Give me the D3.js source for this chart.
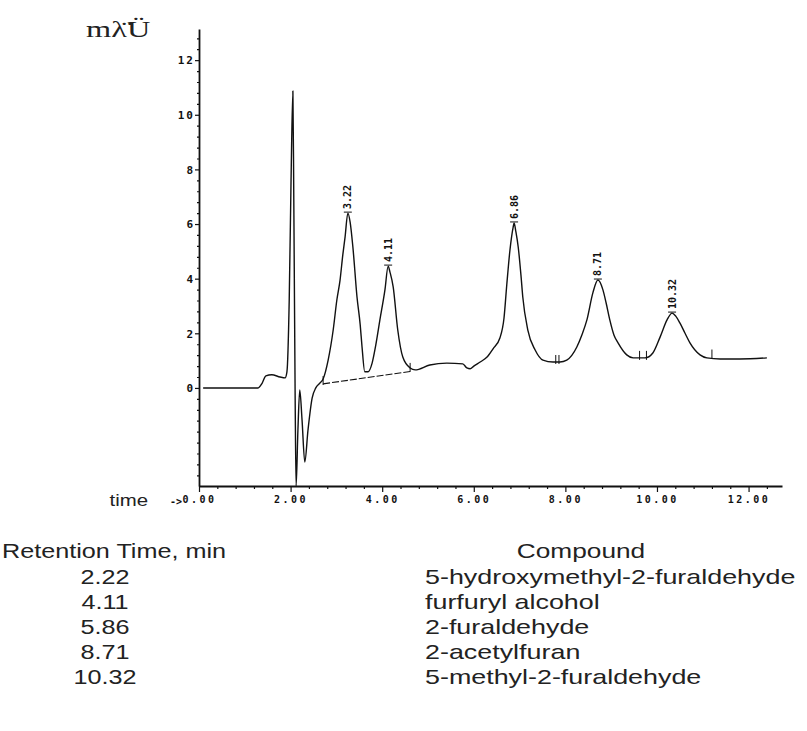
<!DOCTYPE html>
<html><head><meta charset="utf-8">
<script src="https://cdn.jsdelivr.net/npm/d3@7"></script>
<style>
body{margin:0;background:#fff;}
svg{display:block;}
.mono{font-family:"DejaVu Sans Mono",monospace;font-weight:bold;}
</style></head>
<body>
<svg id="c" width="807" height="731"></svg>
<script>
// ---- data ----
const traceTime = [0.09,1.29,1.38,1.46,1.59,1.77,1.88,1.92,1.97,2.01,2.05,2.07,2.10,2.12,2.16,2.20,2.25,2.31,2.38,2.47,2.55,2.64,
  2.71,2.82,2.93,3.01,3.08,3.14,3.19,3.25,3.30,3.36,3.45,3.52,3.56,3.62,3.69,3.78,3.86,3.95,4.06,4.13,4.17,4.24,4.34,4.45,4.61,
  4.72,5.04,5.41,5.76,5.85,5.92,6.00,6.14,6.29,6.42,6.57,6.66,6.72,6.79,6.86,6.88,6.92,6.97,7.03,7.07,7.18,7.34,7.51,7.73,7.88,
  8.03,8.25,8.36,8.47,8.60,8.71,8.82,8.89,8.97,9.06,9.15,9.34,9.48,9.74,9.91,10.07,10.22,10.33,10.41,10.50,10.61,10.72,10.94,
  11.09,11.38,11.81,12.40];
const traceAbs = [0,0,0.18,0.44,0.48,0.40,0.37,0.59,3.22,7.61,10.87,6.88,-0.44,-3.59,-1.54,-0.07,-1.17,-2.71,-1.54,-0.37,0,0.18,
  0.33,1.02,2.12,3.22,3.95,4.87,5.53,6.40,6.07,5.16,3.33,2.31,1.50,0.59,0.59,0.91,1.57,2.49,3.59,4.46,4.24,3.70,2.12,1.13,0.73,
  0.66,0.84,0.91,0.88,0.73,0.70,0.80,0.95,1.13,1.43,1.83,2.56,3.77,5.05,5.89,6.04,5.71,5.16,4.13,3.33,2.12,1.39,1.02,0.95,0.95,
  1.02,1.50,1.94,2.49,3.48,3.95,3.59,3.11,2.49,1.94,1.65,1.21,1.10,1.10,1.28,1.87,2.49,2.74,2.63,2.38,2.01,1.65,1.21,
  1.10,1.06,1.06,1.10];
const baselineTime = [2.71, 4.61];
const baselineAbs = [0.15, 0.60];
const eventTimes = [2.71, 4.61, 7.79, 7.86, 9.62, 9.77, 11.20];
const eventAbs = [0.18, 0.66, 0.95, 0.95, 1.10, 1.10, 1.15];
const peakTimes = [3.25, 4.13, 6.88, 8.71, 10.33];
const peakAbs = [6.40, 4.46, 6.04, 3.95, 2.74];
const peakLabels = ["3.22", "4.11", "6.86", "8.71", "10.32"];
const xMajor = [0, 2, 4, 6, 8, 10, 12];
const xLabels = ["0.00", "2.00", "4.00", "6.00", "8.00", "10.00", "12.00"];
const yMajor = [0, 2, 4, 6, 8, 10, 12];
const yLabels = ["0", "2", "4", "6", "8", "10", "12"];
const tableTimes = ["2.22", "4.11", "5.86", "8.71", "10.32"];
const tableCompounds = ["5-hydroxymethyl-2-furaldehyde", "furfuryl alcohol", "2-furaldehyde", "2-acetylfuran", "5-methyl-2-furaldehyde"];

// ---- drawing ----
const svg = d3.select("#c");
const x = d3.scaleLinear().domain([0, 12.73]).range([199, 782]);
const y = d3.scaleLinear().domain([-3.59, 13.14]).range([486, 29]);
const ink = "#111";

function stretchedText(parent, px, py, str, anchor, sx) {
  return parent.append("g").attr("transform", `translate(${px},${py}) scale(${sx},1)`)
    .append("text").attr("text-anchor", anchor || "start").text(str);
}

// minor ticks
const xMinor = d3.range(0, 12.8, 0.4).filter(v => !xMajor.some(m => Math.abs(m - v) < 0.01));
const yMinor = d3.range(-3.2, 13.1, 0.4).filter(v => !yMajor.some(m => Math.abs(m - v) < 0.01));

const xAxis = svg.append("g").attr("transform", `translate(0,${y.range()[0]})`)
  .call(d3.axisBottom(x).tickValues(xMajor).tickSize(6).tickSizeOuter(0)
    .tickFormat((d, i) => xLabels[i]));
svg.append("g").attr("transform", `translate(0,${y.range()[0]})`)
  .call(d3.axisBottom(x).tickValues(xMinor).tickSize(3).tickSizeOuter(0).tickFormat(""))
  .select(".domain").remove();
const yAxis = svg.append("g").attr("transform", `translate(${x.range()[0]},0)`)
  .call(d3.axisLeft(y).tickValues(yMajor).tickSize(4).tickSizeOuter(0)
    .tickFormat((d, i) => yLabels[i]));
svg.append("g").attr("transform", `translate(${x.range()[0]},0)`)
  .call(d3.axisLeft(y).tickValues(yMinor).tickSize(2).tickSizeOuter(0).tickFormat(""))
  .select(".domain").remove();

svg.selectAll(".domain").attr("stroke", ink).attr("stroke-width", 1.8);
svg.selectAll(".tick line").attr("stroke", ink).attr("stroke-width", 1.2);
xAxis.selectAll("text").attr("class", "mono").attr("font-size", 10).attr("letter-spacing", 2.5)
  .attr("fill", ink).attr("y", 10);
yAxis.selectAll("text").attr("class", "mono").attr("font-size", 11).attr("letter-spacing", 2)
  .attr("fill", ink).attr("x", -4).attr("dy", "0.35em");

// "->" arrow and "time" label
svg.append("text").attr("class", "mono").attr("x", x(0) - 17).attr("y", y.range()[0] + 19)
  .attr("text-anchor", "end").attr("font-size", 10).attr("fill", ink).text("->");
const timeLbl = svg.append("g").attr("font-family", "Liberation Sans, Arial, sans-serif")
  .attr("font-size", 17).attr("fill", "#222");
stretchedText(timeLbl, 148, y.range()[0] + 20, "time", "end", 1.2);

// y unit label
const unitLbl = svg.append("g").attr("font-family", "Liberation Serif, Times New Roman, serif")
  .attr("font-size", 24).attr("fill", "#222");
stretchedText(unitLbl, 86, 37, "mλ\u0308\u00DC", "start", 1.35);

// baseline (integration)
svg.append("line")
  .attr("x1", x(baselineTime[0])).attr("y1", y(baselineAbs[0]))
  .attr("x2", x(baselineTime[1])).attr("y2", y(baselineAbs[1]))
  .attr("stroke", ink).attr("stroke-width", 1.1).attr("stroke-dasharray", "7,2");

// event markers
svg.selectAll(".ev").data(eventTimes).join("line")
  .attr("x1", d => x(d)).attr("x2", d => x(d))
  .attr("y1", (d, i) => y(eventAbs[i]) + 2).attr("y2", (d, i) => y(eventAbs[i]) - 7)
  .attr("stroke", ink).attr("stroke-width", 1);

// trace
const pts = traceTime.map((t, i) => [t, traceAbs[i]]);
svg.append("path").datum(pts)
  .attr("d", d3.line().x(d => x(d[0])).y(d => y(d[1])).curve(d3.curveMonotoneX))
  .attr("fill", "none").attr("stroke", ink).attr("stroke-width", 1.4).attr("stroke-linejoin", "round");

// peak top markers + labels
svg.selectAll(".pm").data(peakTimes).join("line")
  .attr("x1", d => x(d) - 4).attr("x2", d => x(d) + 4)
  .attr("y1", (d, i) => y(peakAbs[i]) - 1).attr("y2", (d, i) => y(peakAbs[i]) - 1)
  .attr("stroke", ink).attr("stroke-width", 1);
svg.selectAll(".pl").data(peakTimes).join("text")
  .attr("class", "mono").attr("font-size", 10).attr("fill", ink)
  .attr("transform", (d, i) => `translate(${x(d) + 3.5},${y(peakAbs[i]) - 4}) rotate(-90)`)
  .attr("text-anchor", "start")
  .text((d, i) => peakLabels[i]);

// table below chart
const tf = "Liberation Sans, Arial, sans-serif";
const table = svg.append("g").attr("font-family", tf).attr("font-size", 21).attr("fill", "#222");
stretchedText(table, 2, 558, "Retention Time, min", "start", 1.2);
stretchedText(table, 581, 558, "Compound", "middle", 1.25);
const rowY = d3.scaleLinear().domain([0, 1]).range([584, 609]);
tableTimes.forEach((d, i) => stretchedText(table, 105, rowY(i), d, "middle", 1.2));
tableCompounds.forEach((d, i) => stretchedText(table, 425, rowY(i), d, "start", 1.28));
</script>
</body></html>
